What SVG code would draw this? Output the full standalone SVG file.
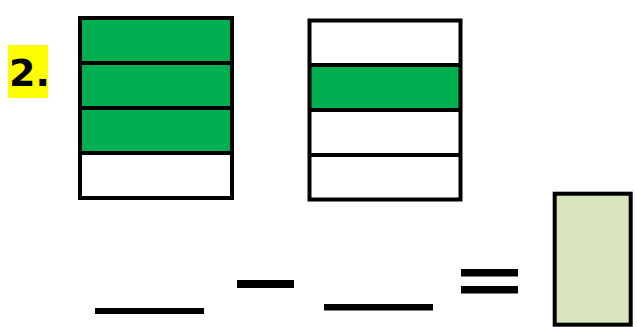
<svg xmlns="http://www.w3.org/2000/svg" width="637" height="327" viewBox="0 0 637 327">
<style>
.box{fill:none;stroke:#000;stroke-width:4}
.div{stroke:#000;stroke-width:4}
.g{fill:#00B050}
.w{fill:#fff}
.bar{fill:#000}
</style>
<rect width="637" height="327" fill="#fff"/>
<g id="label">
<rect x="8" y="45" width="40" height="53" fill="#FFFF00"/>
<text x="9" y="86" font-family="'DejaVu Sans', sans-serif" font-weight="bold" font-size="38" fill="#000">2.</text>
</g>
<g id="bar1">
<rect x="80" y="18" width="152" height="135" class="g"/>
<rect x="80" y="153" width="152" height="45" class="w"/>
<line x1="80" y1="63" x2="232" y2="63" class="div"/>
<line x1="80" y1="108" x2="232" y2="108" class="div"/>
<line x1="80" y1="153" x2="232" y2="153" class="div"/>
<rect x="80" y="18" width="152" height="180" class="box"/>
</g>
<g id="bar2">
<rect x="309.5" y="20.5" width="151" height="179" class="w"/>
<rect x="309.5" y="65" width="151" height="45" class="g"/>
<line x1="309.5" y1="65" x2="460.5" y2="65" class="div"/>
<line x1="309.5" y1="110" x2="460.5" y2="110" class="div"/>
<line x1="309.5" y1="155" x2="460.5" y2="155" class="div"/>
<rect x="309.5" y="20.5" width="151" height="179" class="box"/>
</g>
<g id="equation">
<rect x="95" y="308" width="109" height="6" class="bar"/>
<rect x="237" y="280" width="57" height="8" class="bar"/>
<rect x="324" y="304" width="109" height="6.5" class="bar"/>
<rect x="461" y="269" width="57" height="7.5" class="bar"/>
<rect x="461" y="286" width="57" height="7.5" class="bar"/>
</g>
<g id="answer">
<rect x="554.7" y="193.7" width="76" height="131" fill="#D7E4BD" stroke="#000" stroke-width="4"/>
</g>
</svg>
